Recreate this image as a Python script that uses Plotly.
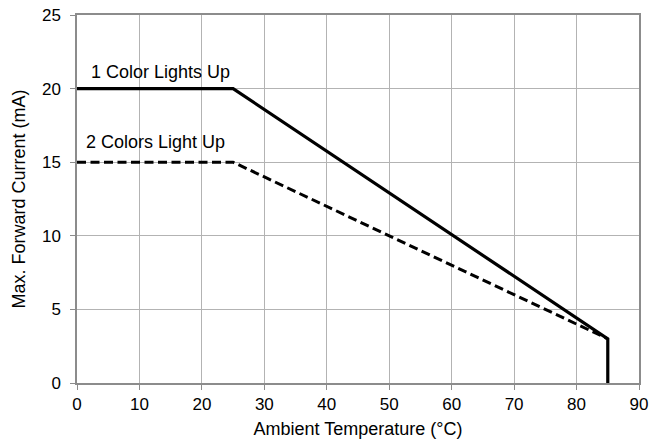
import plotly.graph_objects as go

temp_1color = [0, 25, 85, 85]
current_1color = [20, 20, 3, 0]
temp_2colors = [0, 25, 85]
current_2colors = [15, 15, 3]
x_ticks = [0, 10, 20, 30, 40, 50, 60, 70, 80, 90]
y_ticks = [0, 5, 10, 15, 20, 25]

fig = go.Figure()
fig.add_trace(go.Scatter(x=temp_2colors, y=current_2colors, mode="lines",
                         line=dict(color="black", width=3, dash="9px,4.5px"), showlegend=False))
fig.add_trace(go.Scatter(x=temp_1color, y=current_1color, mode="lines",
                         line=dict(color="black", width=3.2), showlegend=False))

fig.add_annotation(x=1.9, y=21.15, text="1 Color Lights Up", showarrow=False,
                   xanchor="left", yanchor="middle", font=dict(size=18, color="black"))
fig.add_annotation(x=1.1, y=16.35, text="2 Colors Light Up", showarrow=False,
                   xanchor="left", yanchor="middle", font=dict(size=18, color="black"))

axis_common = dict(showgrid=True, gridcolor="#b3b3b3", gridwidth=1,
                   showline=True, linecolor="#8c8c8c", linewidth=1.5, mirror=True,
                   ticks="outside", ticklen=5, tickcolor="#8c8c8c", automargin=False,
                   zeroline=False, tickfont=dict(size=17, color="black"))

fig.update_xaxes(range=[0, 90], tickvals=x_ticks,
                 title=dict(text="Ambient Temperature (°C)", font=dict(size=18, color="black"), standoff=9),
                 **axis_common)
fig.update_yaxes(range=[0, 25], tickvals=y_ticks, ticklabelstandoff=6,
                 title=dict(text="Max. Forward Current (mA)", font=dict(size=18, color="black"), standoff=12),
                 **axis_common)

fig.update_layout(width=652, height=446, margin=dict(l=77, r=13, t=15, b=63),
                  plot_bgcolor="white", paper_bgcolor="white",
                  font=dict(family="Liberation Sans, Arial, sans-serif", color="black"))

fig.write_html("out.html", config={"displayModeBar": False},
               post_script="document.body.style.margin='0';")
